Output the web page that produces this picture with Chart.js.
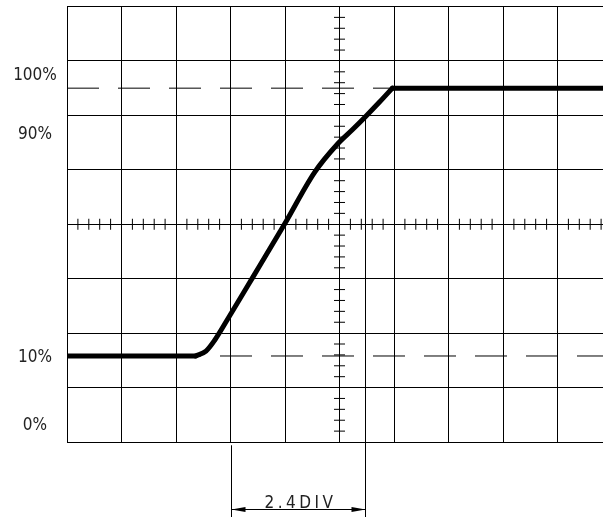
<!DOCTYPE html>
<html>
<head>
<meta charset="utf-8">
<script src="https://cdn.jsdelivr.net/npm/chart.js@4"></script>
<style>
  html, body { margin: 0; padding: 0; overflow: hidden; background: #fff; }
  canvas { display: block; }
</style>
</head>
<body>
<canvas id="scope" width="620" height="517"></canvas>
<script>
// Rise-time graticule: 10 x 8 divisions, values in divisions from centre

// the step response
const riseX = [-5, -2.64, -2.45, -2.29, -2.02, -1.6, -1.01, -0.46, -0.04, 0.24, 0.48, 0.73, 0.97, 5];
const riseY = [-2.42, -2.42, -2.33, -2.13, -1.69, -0.99, 0, 0.95, 1.47, 1.74, 1.98, 2.24, 2.5, 2.5];

// dashed 100% / 10% reference lines
const refLevels = [2.5, -2.42];

// level labels on the left
const levelLabels = ["100%", "90%", "10%", "0%"];
const levelLabelY = [2.74, 1.65, -2.45, -3.69];

// rise time dimension
const dimX = [-2.0, 0.477];
const dimTopY = [-4.06, 1.98];
const dimLineY = -5.23;
const dimBottomY = -5.4;
const dimText = "2.4DIV";

// small ticks on the centre lines, every 0.2 div
const minorTicksX = [];
for (let v = -50; v <= 50; v += 2) if (v % 10 !== 0) minorTicksX.push(v / 10);
const minorTicksY = [];
for (let v = -40; v <= 40; v += 2) if (v % 10 !== 0) minorTicksY.push(v / 10);

const FONT = '17px "DejaVu Sans Condensed", "DejaVu Sans", sans-serif';

const annotations = {
  id: "annotations",
  afterDatasetsDraw(chart) {
    const ctx = chart.ctx;
    const xs = chart.scales.x;
    const ys = chart.scales.y;
    ctx.save();

    // level labels
    ctx.fillStyle = "#222";
    ctx.font = FONT;
    ctx.textAlign = "center";
    ctx.textBaseline = "middle";
    levelLabels.forEach((t, i) => {
      ctx.fillText(t, 35, ys.getPixelForValue(levelLabelY[i]));
    });

    // extension lines
    ctx.strokeStyle = "#000";
    ctx.lineWidth = 1;
    dimX.forEach((x, i) => {
      const px = Math.round(xs.getPixelForValue(x)) + 0.5;
      ctx.beginPath();
      ctx.moveTo(px, ys.getPixelForValue(dimTopY[i]));
      ctx.lineTo(px, ys.getPixelForValue(dimBottomY));
      ctx.stroke();
    });

    // dimension line with arrows
    const x1 = Math.round(xs.getPixelForValue(dimX[0])) + 0.5;
    const x2 = Math.round(xs.getPixelForValue(dimX[1])) + 0.5;
    const py = Math.round(ys.getPixelForValue(dimLineY)) + 0.5;
    ctx.beginPath();
    ctx.moveTo(x1, py);
    ctx.lineTo(x2, py);
    ctx.stroke();
    ctx.fillStyle = "#000";
    [[x1, 1], [x2, -1]].forEach(([tip, dir]) => {
      ctx.beginPath();
      ctx.moveTo(tip, py);
      ctx.lineTo(tip + dir * 14, py - 2.5);
      ctx.lineTo(tip + dir * 14, py + 2.5);
      ctx.closePath();
      ctx.fill();
    });

    // dimension text
    ctx.fillStyle = "#222";
    ctx.font = FONT;
    ctx.letterSpacing = "3.5px";
    ctx.textAlign = "center";
    ctx.textBaseline = "alphabetic";
    ctx.fillText(dimText, (x1 + x2) / 2 + 2, py - 2);
    ctx.restore();
  },
};

const signalPoints = riseX.map((x, i) => ({ x, y: riseY[i] }));
const last = signalPoints.length - 1;

function signalPart(points, mode) {
  return {
    label: "signal",
    data: points,
    showLine: true,
    borderColor: "#000",
    borderWidth: 5,
    borderJoinStyle: "round",
    borderCapStyle: "round",
    cubicInterpolationMode: mode,
    tension: 0,
    pointRadius: 0,
  };
}

new Chart(document.getElementById("scope"), {
  type: "scatter",
  data: {
    datasets: [
      // flat parts straight, the rise itself smoothed
      signalPart(signalPoints.slice(0, 2), "default"),
      signalPart(signalPoints.slice(1, last), "monotone"),
      signalPart(signalPoints.slice(last - 1), "default"),
      ...refLevels.map((lv) => ({
        label: "ref",
        data: [{ x: -5, y: lv }, { x: 5, y: lv }],
        showLine: true,
        borderColor: "#000",
        borderWidth: 1,
        borderDash: [32, 19],
        pointRadius: 0,
      })),
      {
        label: "ticksX",
        data: minorTicksX.map((x) => ({ x, y: 0 })),
        pointStyle: "line",
        rotation: 90,
        radius: 5.5,
        borderColor: "#000",
        borderWidth: 1,
      },
      {
        label: "ticksY",
        data: minorTicksY.map((y) => ({ x: 0, y })),
        pointStyle: "line",
        rotation: 0,
        radius: 5.5,
        borderColor: "#000",
        borderWidth: 1,
      },
    ],
  },
  options: {
    responsive: false,
    animation: false,
    events: [],
    layout: { padding: { left: 67, top: 6, right: 8, bottom: 75 } },
    plugins: {
      legend: { display: false },
      tooltip: { enabled: false },
    },
    scales: {
      x: {
        type: "linear",
        min: -5,
        max: 5,
        ticks: { display: false, stepSize: 1 },
        grid: { color: "#000", lineWidth: 1, drawTicks: false },
        border: { display: true, color: "#000" },
      },
      y: {
        type: "linear",
        min: -4,
        max: 4,
        ticks: { display: false, stepSize: 1 },
        grid: { color: "#000", lineWidth: 1, drawTicks: false },
        border: { display: true, color: "#000" },
      },
    },
  },
  plugins: [annotations],
});
</script>
</body>
</html>
